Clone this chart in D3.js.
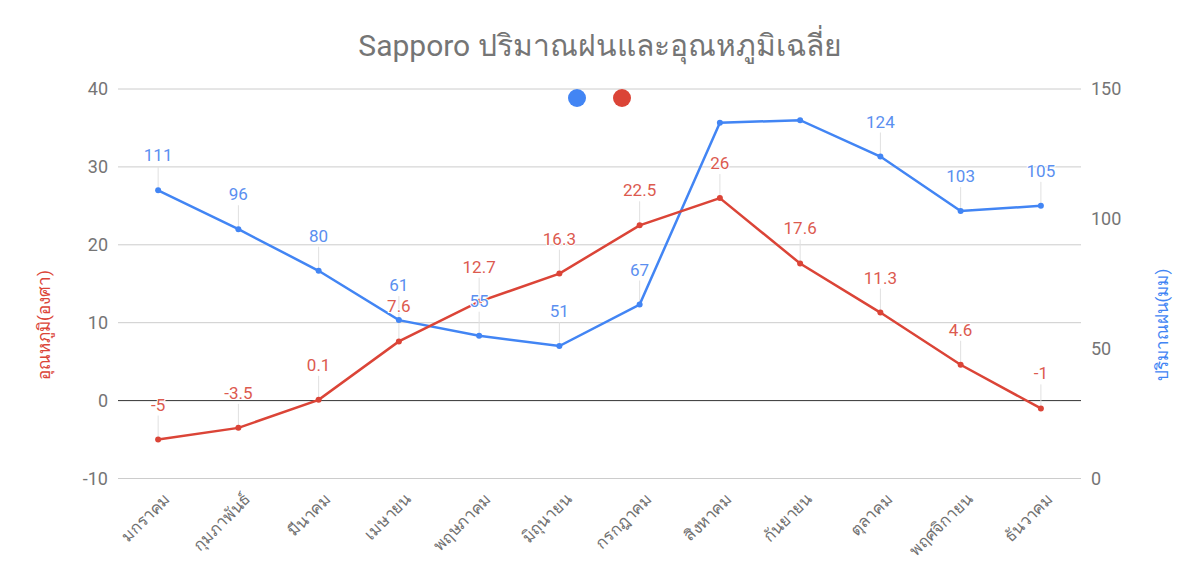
<!DOCTYPE html>
<html><head><meta charset="utf-8">
<script src="https://cdn.jsdelivr.net/npm/d3@7"></script>
<style>body{margin:0;background:#fff;font-family:Roboto,"Noto Sans",sans-serif;}</style>
</head><body><svg id="c" width="1200" height="587"></svg>
<script>
const months = ["มกราคม","กุมภาพันธ์","มีนาคม","เมษายน","พฤษภาคม","มิถุนายน","กรกฎาคม","สิงหาคม","กันยายน","ตุลาคม","พฤศจิกายน","ธันวาคม"];
const rain = [111,96,80,61,55,51,67,137,138,124,103,105];
const temp = [-5,-3.5,0.1,7.6,12.7,16.3,22.5,26,17.6,11.3,4.6,-1];
const rainLabelShown = [true,true,true,true,true,true,true,false,false,true,true,true];
const leftTicks = [-10,0,10,20,30,40];
const rightTicks = [0,50,100,150];
const title = "Sapporo ปริมาณฝนและอุณหภูมิเฉลี่ย";
const leftTitle = "อุณหภูมิ(องศา)";
const rightTitle = "ปริมาณฝน(มม)";
const blue = "#4285f4", red = "#db4437";

const svg = d3.select("#c");
const L = 118, R = 1081, T = 89, B = 478.5;
const x = d3.scaleBand().domain(months).range([L, R]);
const yL = d3.scaleLinear().domain([-10, 40]).range([B, T]);
const yR = d3.scaleLinear().domain([0, 150]).range([B, T]);
const cx = m => x(m) + x.bandwidth() / 2;

// gridlines
svg.append("g").selectAll("line").data(leftTicks).join("line")
  .attr("x1", L).attr("x2", R).attr("y1", d => yL(d)).attr("y2", d => yL(d))
  .attr("stroke", d => d === 0 ? "#333" : "#ccc").attr("stroke-width", 1);

// left axis labels
const gl = svg.append("g").attr("transform", `translate(${L - 10},0)`)
  .call(d3.axisLeft(yL).tickValues(leftTicks).tickFormat(d => String(d)).tickSize(0).tickPadding(0));
gl.select(".domain").remove();
gl.selectAll("text").attr("font-size", 18).attr("fill", "#757575").attr("font-family", "Roboto");

const gr = svg.append("g").attr("transform", `translate(${R + 10},0)`)
  .call(d3.axisRight(yR).tickValues(rightTicks).tickFormat(d => String(d)).tickSize(0).tickPadding(0));
gr.select(".domain").remove();
gr.selectAll("text").attr("font-size", 18).attr("fill", "#757575").attr("font-family", "Roboto");

// x labels
svg.append("g").selectAll("text").data(months).join("text")
  .attr("transform", d => `translate(${cx(d) + 13},${500}) rotate(-45)`)
  .attr("text-anchor", "end").attr("font-size", 16.5).attr("fill", "#707070")
  .text(d => d);

// lines
const lineR = d3.line().x((d, i) => cx(months[i])).y(d => yR(d));
const lineT = d3.line().x((d, i) => cx(months[i])).y(d => yL(d));

const leaders = svg.append("g");
svg.append("path").datum(rain).attr("d", lineR).attr("fill", "none").attr("stroke", blue).attr("stroke-width", 2.5);
svg.append("g").selectAll("circle").data(rain).join("circle")
  .attr("cx", (d, i) => cx(months[i])).attr("cy", d => yR(d)).attr("r", 3).attr("fill", blue);
svg.append("path").datum(temp).attr("d", lineT).attr("fill", "none").attr("stroke", red).attr("stroke-width", 2.5);
svg.append("g").selectAll("circle").data(temp).join("circle")
  .attr("cx", (d, i) => cx(months[i])).attr("cy", d => yL(d)).attr("r", 3).attr("fill", red);
const labelG = svg.append("g");

function labels(data, yS, color, shown) {
  data.forEach((v, i) => {
    if (shown && !shown[i]) return;
    const px = cx(months[i]), py = yS(v);
    leaders.append("line").attr("x1", px).attr("x2", px).attr("y1", py).attr("y2", py - 24)
      .attr("stroke", "#e0e0e0").attr("stroke-width", 1);
    labelG.append("text").attr("x", px).attr("y", py - 29).attr("text-anchor", "middle")
      .attr("font-size", 17).attr("fill", color)
      .attr("stroke", "#fff").attr("stroke-width", 2).attr("paint-order", "stroke")
      .text(v);
  });
}
labels(rain, yR, "#5b8ff0", rainLabelShown);
labels(temp, yL, "#dc5a4f", null);

// legend
svg.append("circle").attr("cx", 577).attr("cy", 98).attr("r", 9).attr("fill", blue);
svg.append("circle").attr("cx", 622).attr("cy", 98).attr("r", 9).attr("fill", red);

// title
svg.append("text").attr("x", 600).attr("y", 56).attr("text-anchor", "middle")
  .attr("font-size", 30).attr("fill", "#757575").text(title);

// axis titles
svg.append("text").attr("transform", "translate(50,325) rotate(-90)").attr("text-anchor", "middle")
  .attr("font-size", 17).attr("fill", red).text(leftTitle);
svg.append("text").attr("transform", "translate(1168,325) rotate(-90)").attr("text-anchor", "middle")
  .attr("font-size", 17).attr("fill", blue).text(rightTitle);
</script></body></html>
